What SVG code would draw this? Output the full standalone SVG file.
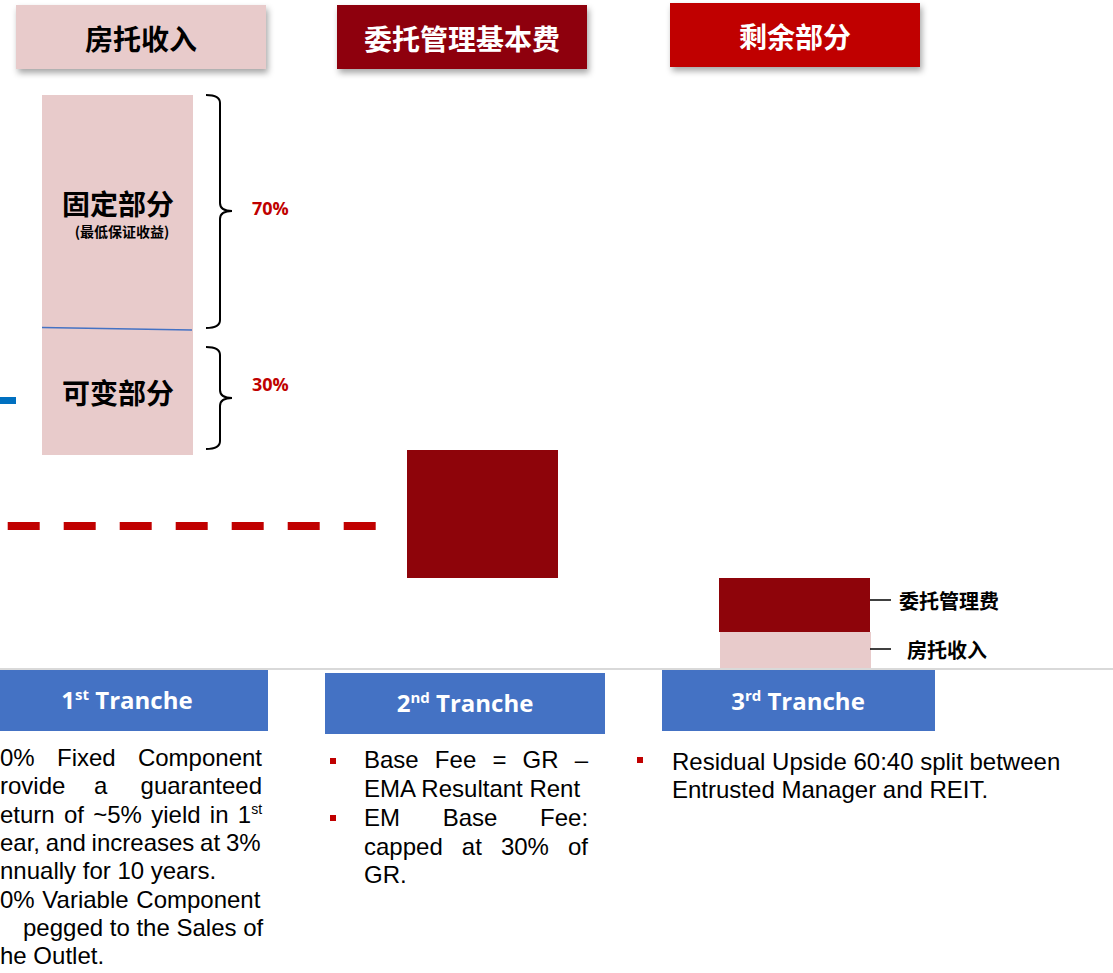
<svg xmlns="http://www.w3.org/2000/svg" width="1113" height="973" viewBox="0 0 1113 973">
<defs>
<filter id="sh" x="-10%" y="-20%" width="130%" height="160%">
<feDropShadow dx="2" dy="4" stdDeviation="3" flood-color="#000" flood-opacity="0.35"/>
</filter>
<style>
.cjk{font-family:"Noto Sans CJK SC","Noto Sans",sans-serif;font-weight:bold}
.hd{font-size:28px;text-anchor:middle}
.pct{font-family:"Open Sans","Liberation Sans",sans-serif;font-weight:bold;font-size:18px;fill:#C00000}
.tr{font-family:"Open Sans",Lato,sans-serif;font-weight:bold;font-size:24px;fill:#fff;text-anchor:middle}
.body{font-family:"Liberation Sans",Arial,sans-serif;font-size:24px;fill:#000}
.br{fill:none;stroke:#000;stroke-width:2}
.bul{fill:#C00000}
</style>
</defs>
<rect width="1113" height="973" fill="#fff"/>

<g id="header-fangtuo">
<rect x="16" y="5" width="250" height="64" fill="#E8CBCB" filter="url(#sh)"/>
<text class="cjk hd" x="141" y="50" fill="#000">房托收入</text>
</g>
<g id="header-basefee">
<rect x="337" y="5" width="250" height="64" fill="#8E040A" filter="url(#sh)"/>
<text class="cjk hd" x="462" y="50" fill="#fff">委托管理基本费</text>
</g>
<g id="header-residual">
<rect x="670" y="3" width="250" height="64" fill="#C00000" filter="url(#sh)"/>
<text class="cjk hd" x="795" y="48" fill="#fff">剩余部分</text>
</g>

<g id="column">
<rect x="42" y="95" width="151" height="360" fill="#E8CBCB"/>
<line x1="42" y1="327.5" x2="192" y2="330" stroke="#4472C4" stroke-width="1.3"/>
<text class="cjk" x="118" y="215" font-size="28" text-anchor="middle">固定部分</text>
<text class="cjk" x="122" y="237" font-size="14" text-anchor="middle">(最低保证收益)</text>
<text class="cjk" x="118" y="404" font-size="28" text-anchor="middle">可变部分</text>
</g>

<g id="pct-labels">
<text class="pct" x="252" y="215">70%</text>
<text class="pct" x="252" y="391">30%</text>
</g>

<g id="blue-mark">
<rect x="0" y="397" width="16" height="7" fill="#0070C0"/>
</g>

<g id="basefee-block">
<rect x="407" y="450" width="151" height="128" fill="#8E040A"/>
</g>

<g id="legend">
<rect x="719" y="578" width="151" height="54" fill="#8E040A"/>
<rect x="720" y="632" width="151" height="36" fill="#E8CBCB"/>
<text class="cjk" x="899" y="609" font-size="20">委托管理费</text>
<text class="cjk" x="907" y="658" font-size="20">房托收入</text>
</g>

<g id="connectors">
<path class="br" d="M206,95 Q220,95 220,103 L220,203 Q220,211 232,211 Q220,211 220,219 L220,320 Q220,328 206,328"/>
<path class="br" d="M206,347 Q220,347 220,355 L220,390 Q220,398 232,398 Q220,398 220,406 L220,441 Q220,449 206,449"/>
<line x1="7.7" y1="526" x2="376" y2="526" stroke="#C00000" stroke-width="8" stroke-dasharray="32 24"/>
<line x1="870" y1="600" x2="891" y2="600" stroke="#000" stroke-width="1.5"/>
<line x1="870" y1="649" x2="891" y2="649" stroke="#000" stroke-width="1.5"/>
<line x1="0" y1="669" x2="1113" y2="669" stroke="#D9D9D9" stroke-width="2"/>
</g>

<g id="tranche1">
<rect x="-14" y="670" width="282" height="61" fill="#4472C4"/>
<text class="tr" x="127" y="709">1<tspan font-size="15" dy="-9">st</tspan><tspan dy="9"> Tranche</tspan></text>
<text class="body" y="766"><tspan x="0">0%</tspan><tspan x="57">Fixed</tspan><tspan x="262" text-anchor="end">Component</tspan></text>
<text class="body" y="794.3"><tspan x="0">rovide</tspan><tspan x="94">a</tspan><tspan x="262" text-anchor="end">guaranteed</tspan></text>
<text class="body" x="0" y="822.6" word-spacing="2.6">eturn of ~5% yield in 1<tspan font-size="14" dy="-9">st</tspan></text>
<text class="body" x="0" y="850.9" word-spacing="-0.9">ear, and increases at 3%</text>
<text class="body" x="0" y="879.2">nnually for 10 years.</text>
<text class="body" x="0" y="907.5" word-spacing="1">0% Variable Component</text>
<text class="body" x="23" y="935.8">pegged to the Sales of</text>
<text class="body" x="0" y="964.1">he Outlet.</text>
</g>

<g id="tranche2">
<rect x="325" y="673" width="280" height="61" fill="#4472C4"/>
<text class="tr" x="465" y="712">2<tspan font-size="15" dy="-9">nd</tspan><tspan dy="9"> Tranche</tspan></text>
<rect class="bul" x="330" y="758" width="6" height="6"/>
<rect class="bul" x="330" y="815" width="6" height="6"/>
<text class="body" x="364" y="768" word-spacing="9.5">Base Fee = GR –</text>
<text class="body" x="364" y="797">EMA Resultant Rent</text>
<text class="body" x="364" y="826" word-spacing="36">EM Base Fee:</text>
<text class="body" x="364" y="855" word-spacing="12.4">capped at 30% of</text>
<text class="body" x="364" y="883">GR.</text>
</g>

<g id="tranche3">
<rect x="662" y="670" width="273" height="61" fill="#4472C4"/>
<text class="tr" x="798" y="710">3<tspan font-size="15" dy="-9">rd</tspan><tspan dy="9"> Tranche</tspan></text>
<rect class="bul" x="637" y="757" width="6" height="6"/>
<text class="body" x="672" y="770">Residual Upside 60:40 split between</text>
<text class="body" x="672" y="798">Entrusted Manager and REIT.</text>
</g>
</svg>
